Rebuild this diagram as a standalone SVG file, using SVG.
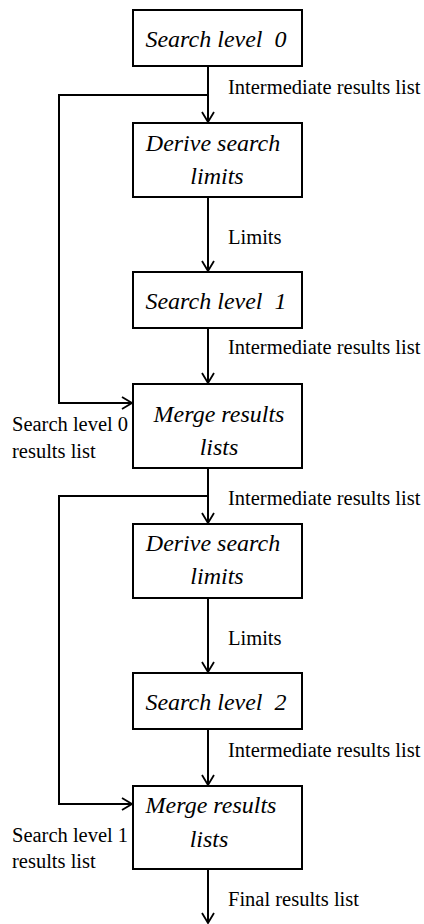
<svg xmlns="http://www.w3.org/2000/svg" width="424" height="924" viewBox="0 0 424 924" xml:space="preserve">
<style>
.box{fill:#fff;stroke:#000;stroke-width:2}
.bt{font-style:italic;font-size:24px;fill:#000;text-anchor:middle;white-space:pre}
.lb{font-size:20.5px;fill:#000}
.ln{fill:none;stroke:#000;stroke-width:2}
</style>
<defs>
<marker id="ah" markerWidth="14" markerHeight="14" refX="11" refY="7" orient="auto" markerUnits="userSpaceOnUse">
<path d="M1,1 L11,7 L1,13" fill="none" stroke="#000" stroke-width="1.8"/>
</marker>
</defs>
<g id="connectors" font-family="'Liberation Serif', 'Times New Roman', Times, serif">
<path class="ln" d="M208,66 V122" marker-end="url(#ah)"/>
<path class="ln" d="M208,95 H59 V403 H132" marker-end="url(#ah)"/>
<path class="ln" d="M208,197 V271" marker-end="url(#ah)"/>
<path class="ln" d="M208,328 V383" marker-end="url(#ah)"/>
<path class="ln" d="M208,468 V523" marker-end="url(#ah)"/>
<path class="ln" d="M208,496 H59 V804 H132" marker-end="url(#ah)"/>
<path class="ln" d="M208,598 V672" marker-end="url(#ah)"/>
<path class="ln" d="M208,729 V785" marker-end="url(#ah)"/>
<path class="ln" d="M208,869 V923" marker-end="url(#ah)"/>
<text class="lb" x="228" y="94">Intermediate results list</text>
<text class="lb" x="228" y="244">Limits</text>
<text class="lb" x="228" y="354">Intermediate results list</text>
<text class="lb" x="12" y="431">Search level 0</text>
<text class="lb" x="12" y="458">results list</text>
<text class="lb" x="228" y="505">Intermediate results list</text>
<text class="lb" x="228" y="645">Limits</text>
<text class="lb" x="228" y="757">Intermediate results list</text>
<text class="lb" x="12" y="842">Search level 1</text>
<text class="lb" x="12" y="868">results list</text>
<text class="lb" x="228" y="906">Final results list</text>
</g>
<g id="nodes" font-family="'Liberation Serif', 'Times New Roman', Times, serif">
<g id="n1"><rect class="box" x="133" y="10" width="169" height="56"/><text class="bt" x="216" y="47">Search level  0</text></g>
<g id="n2"><rect class="box" x="133" y="123" width="169" height="74"/><text class="bt" x="213" y="151">Derive search</text><text class="bt" x="217" y="184">limits</text></g>
<g id="n3"><rect class="box" x="133" y="272" width="169" height="56"/><text class="bt" x="216" y="309">Search level  1</text></g>
<g id="n4"><rect class="box" x="133" y="384" width="169" height="84"/><text class="bt" x="219" y="422">Merge results</text><text class="bt" x="219" y="455">lists</text></g>
<g id="n5"><rect class="box" x="133" y="524" width="169" height="74"/><text class="bt" x="213" y="551">Derive search</text><text class="bt" x="217" y="584">limits</text></g>
<g id="n6"><rect class="box" x="133" y="673" width="169" height="56"/><text class="bt" x="216" y="710">Search level  2</text></g>
<g id="n7"><rect class="box" x="133" y="786" width="169" height="83"/><text class="bt" x="211" y="813">Merge results</text><text class="bt" x="209" y="847">lists</text></g>
</g>
</svg>
